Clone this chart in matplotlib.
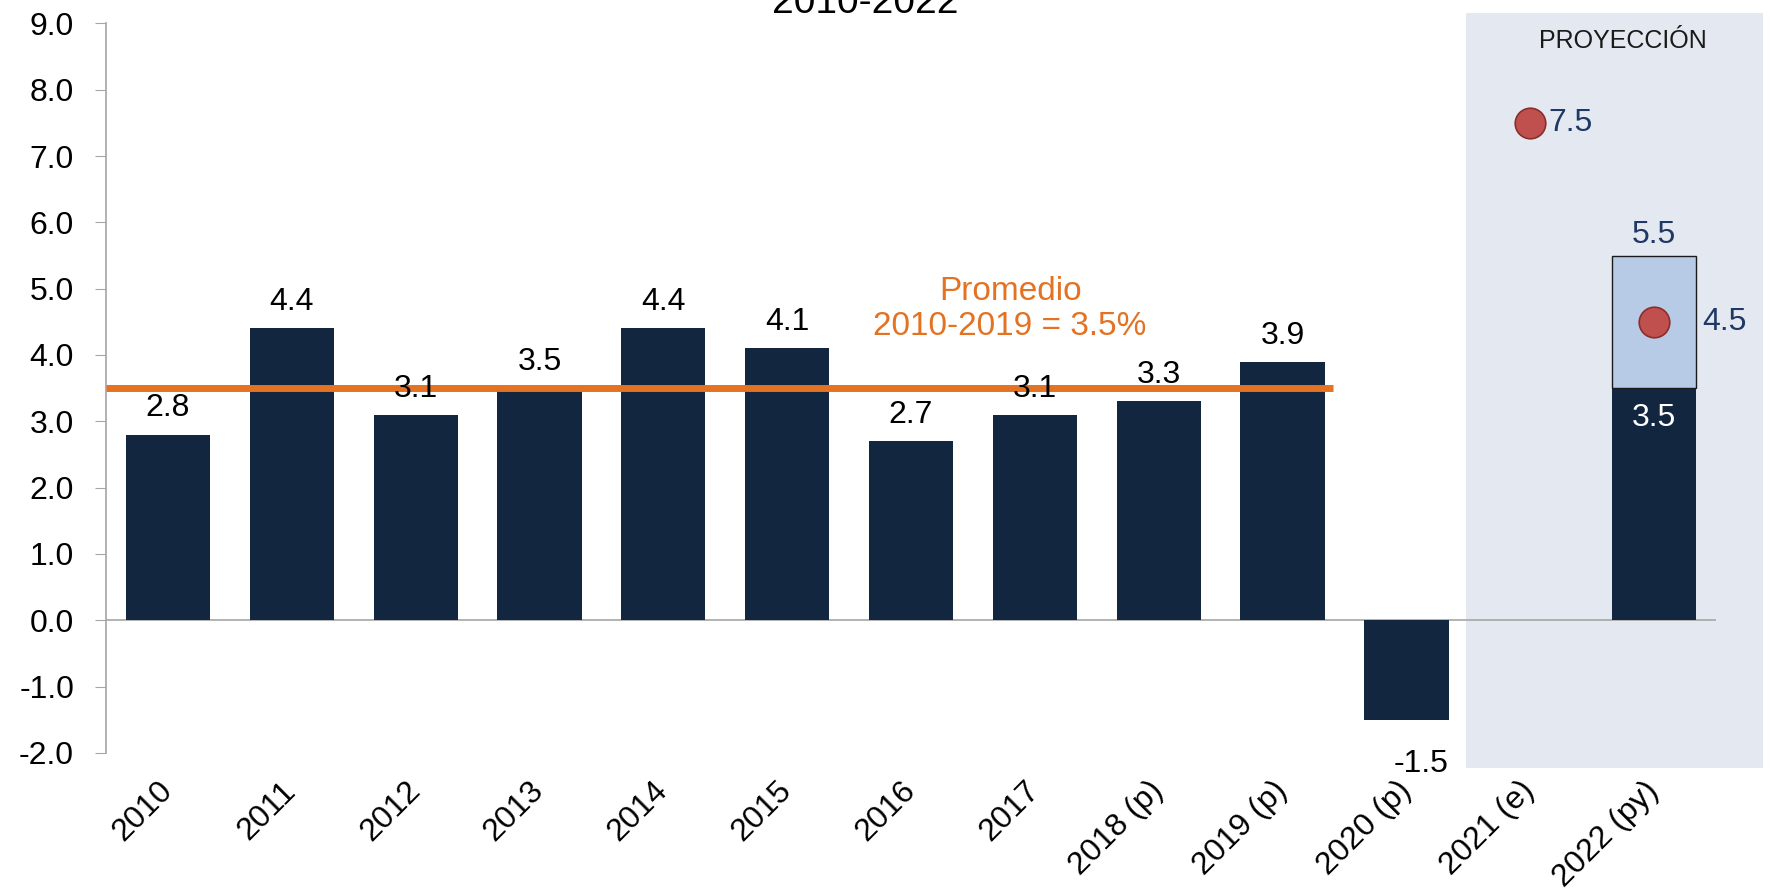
import matplotlib
matplotlib.use("Agg")
import matplotlib.pyplot as plt
from matplotlib.patches import Rectangle

plt.rcParams['font.family'] = ['Liberation Sans', 'DejaVu Sans']
plt.rcParams['axes.unicode_minus'] = False

# Crecimiento anual (%)
years = ['2010', '2011', '2012', '2013', '2014', '2015', '2016', '2017',
         '2018 (p)', '2019 (p)', '2020 (p)', '2021 (e)', '2022 (py)']
growth = [2.8, 4.4, 3.1, 3.5, 4.4, 4.1, 2.7, 3.1, 3.3, 3.9, -1.5]
average = 3.5

# Proyeccion 2022: rango bajo-alto y punto central, estimado 2021
proj_low = 3.5
proj_high = 5.5
proj_mid = 4.5
est_2021 = 7.5

navy = '#13263F'
light = '#B7CAE6'
shade = '#E4E9F1'
orange = '#E37222'
red = '#C0504D'
blue_txt = '#1F3864'
fs = 23

fig = plt.figure(figsize=(17.7, 8.91), dpi=100)
ax = fig.add_axes([0.0599, 0.1549, 0.9096, 0.8189])

x = list(range(len(years)))
i21 = years.index('2021 (e)')
i22 = years.index('2022 (py)')

# zona sombreada de proyeccion
ax.add_patch(Rectangle((i21 - 0.52, -2.22), 2.4, 11.37, facecolor=shade,
                       edgecolor='none', zorder=0, clip_on=False))

ax.axhline(0, color='#A6A6A6', lw=1.2, zorder=1)

bars = ax.bar(x[:len(growth)], growth, width=0.68, color=navy, zorder=2)
for xi, v in zip(x, growth):
    if v >= 0:
        ax.annotate(f'{v:.1f}', (xi, v), xytext=(0, 8), textcoords='offset points',
                    ha='center', va='bottom', fontsize=fs, color='black', zorder=5)
    else:
        ax.annotate(f'{v:.1f}', (xi + 0.34, v), xytext=(0, -21), textcoords='offset points',
                    ha='right', va='top', fontsize=fs, color='black', zorder=5)

# barra 2022: parte base + rango superior
ax.bar(i22, proj_low, width=0.68, color=navy, zorder=2)
ax.bar(i22, proj_high - proj_low, bottom=proj_low, width=0.68, color=light,
       edgecolor='#1a1a1a', lw=1.0, zorder=2)
ax.text(i22, proj_low - 0.22, f'{proj_low:.1f}', ha='center', va='top',
        fontsize=fs, color='white', zorder=5)
ax.annotate(f'{proj_high:.1f}', (i22, proj_high), xytext=(0, 4), textcoords='offset points',
            ha='center', va='bottom', fontsize=fs, color=blue_txt)

ax.plot([i21, i22], [est_2021, proj_mid], 'o', ms=22, color=red,
        mec='#8B2E2B', mew=1.2, ls='none', zorder=4)
ax.annotate(f'{est_2021:.1f}', (i21, est_2021), xytext=(13, 0), textcoords='offset points',
            ha='left', va='center', fontsize=fs, color=blue_txt)
ax.annotate(f'{proj_mid:.1f}', (i22 + 0.34, proj_mid), xytext=(4, 0), textcoords='offset points',
            ha='left', va='center', fontsize=fs, color=blue_txt)

# promedio 2010-2019
ax.plot([-0.5, 9.41], [average, average], color=orange, lw=5, zorder=3,
        solid_capstyle='butt')
ax.text(6.8, 4.69, 'Promedio\n2010-2019 = 3.5%', ha='center', va='center',
        fontsize=fs + 1, color=orange, linespacing=1.15, zorder=5)

ax.text(i22 - 0.25, 8.73, 'PROYECCIÓN', ha='center', va='center',
        fontsize=18, color='#1a1a1a')

fig.text(0.4887, 0.9854, '2010-2022', ha='center', va='baseline',
         fontsize=28, color='black')

ax.set_xlim(-0.5, 12.5)
ax.set_ylim(-2, 9)
ax.set_yticks(range(-2, 10))
ax.set_yticklabels([f'{v:.1f}' for v in range(-2, 10)], fontsize=fs)
ax.tick_params(axis='y', direction='out', length=8, color='#A6A6A6', pad=15)
ax.set_xticks(x)
ax.set_xticklabels(years, rotation=45, ha='right', va='center',
                   rotation_mode='anchor', fontsize=fs)
ax.tick_params(axis='x', length=0, pad=24)

for s in ['top', 'right', 'bottom']:
    ax.spines[s].set_visible(False)
ax.spines['left'].set_color('#A6A6A6')
ax.spines['left'].set_linewidth(1.2)

fig.savefig('out.png', dpi=100)
